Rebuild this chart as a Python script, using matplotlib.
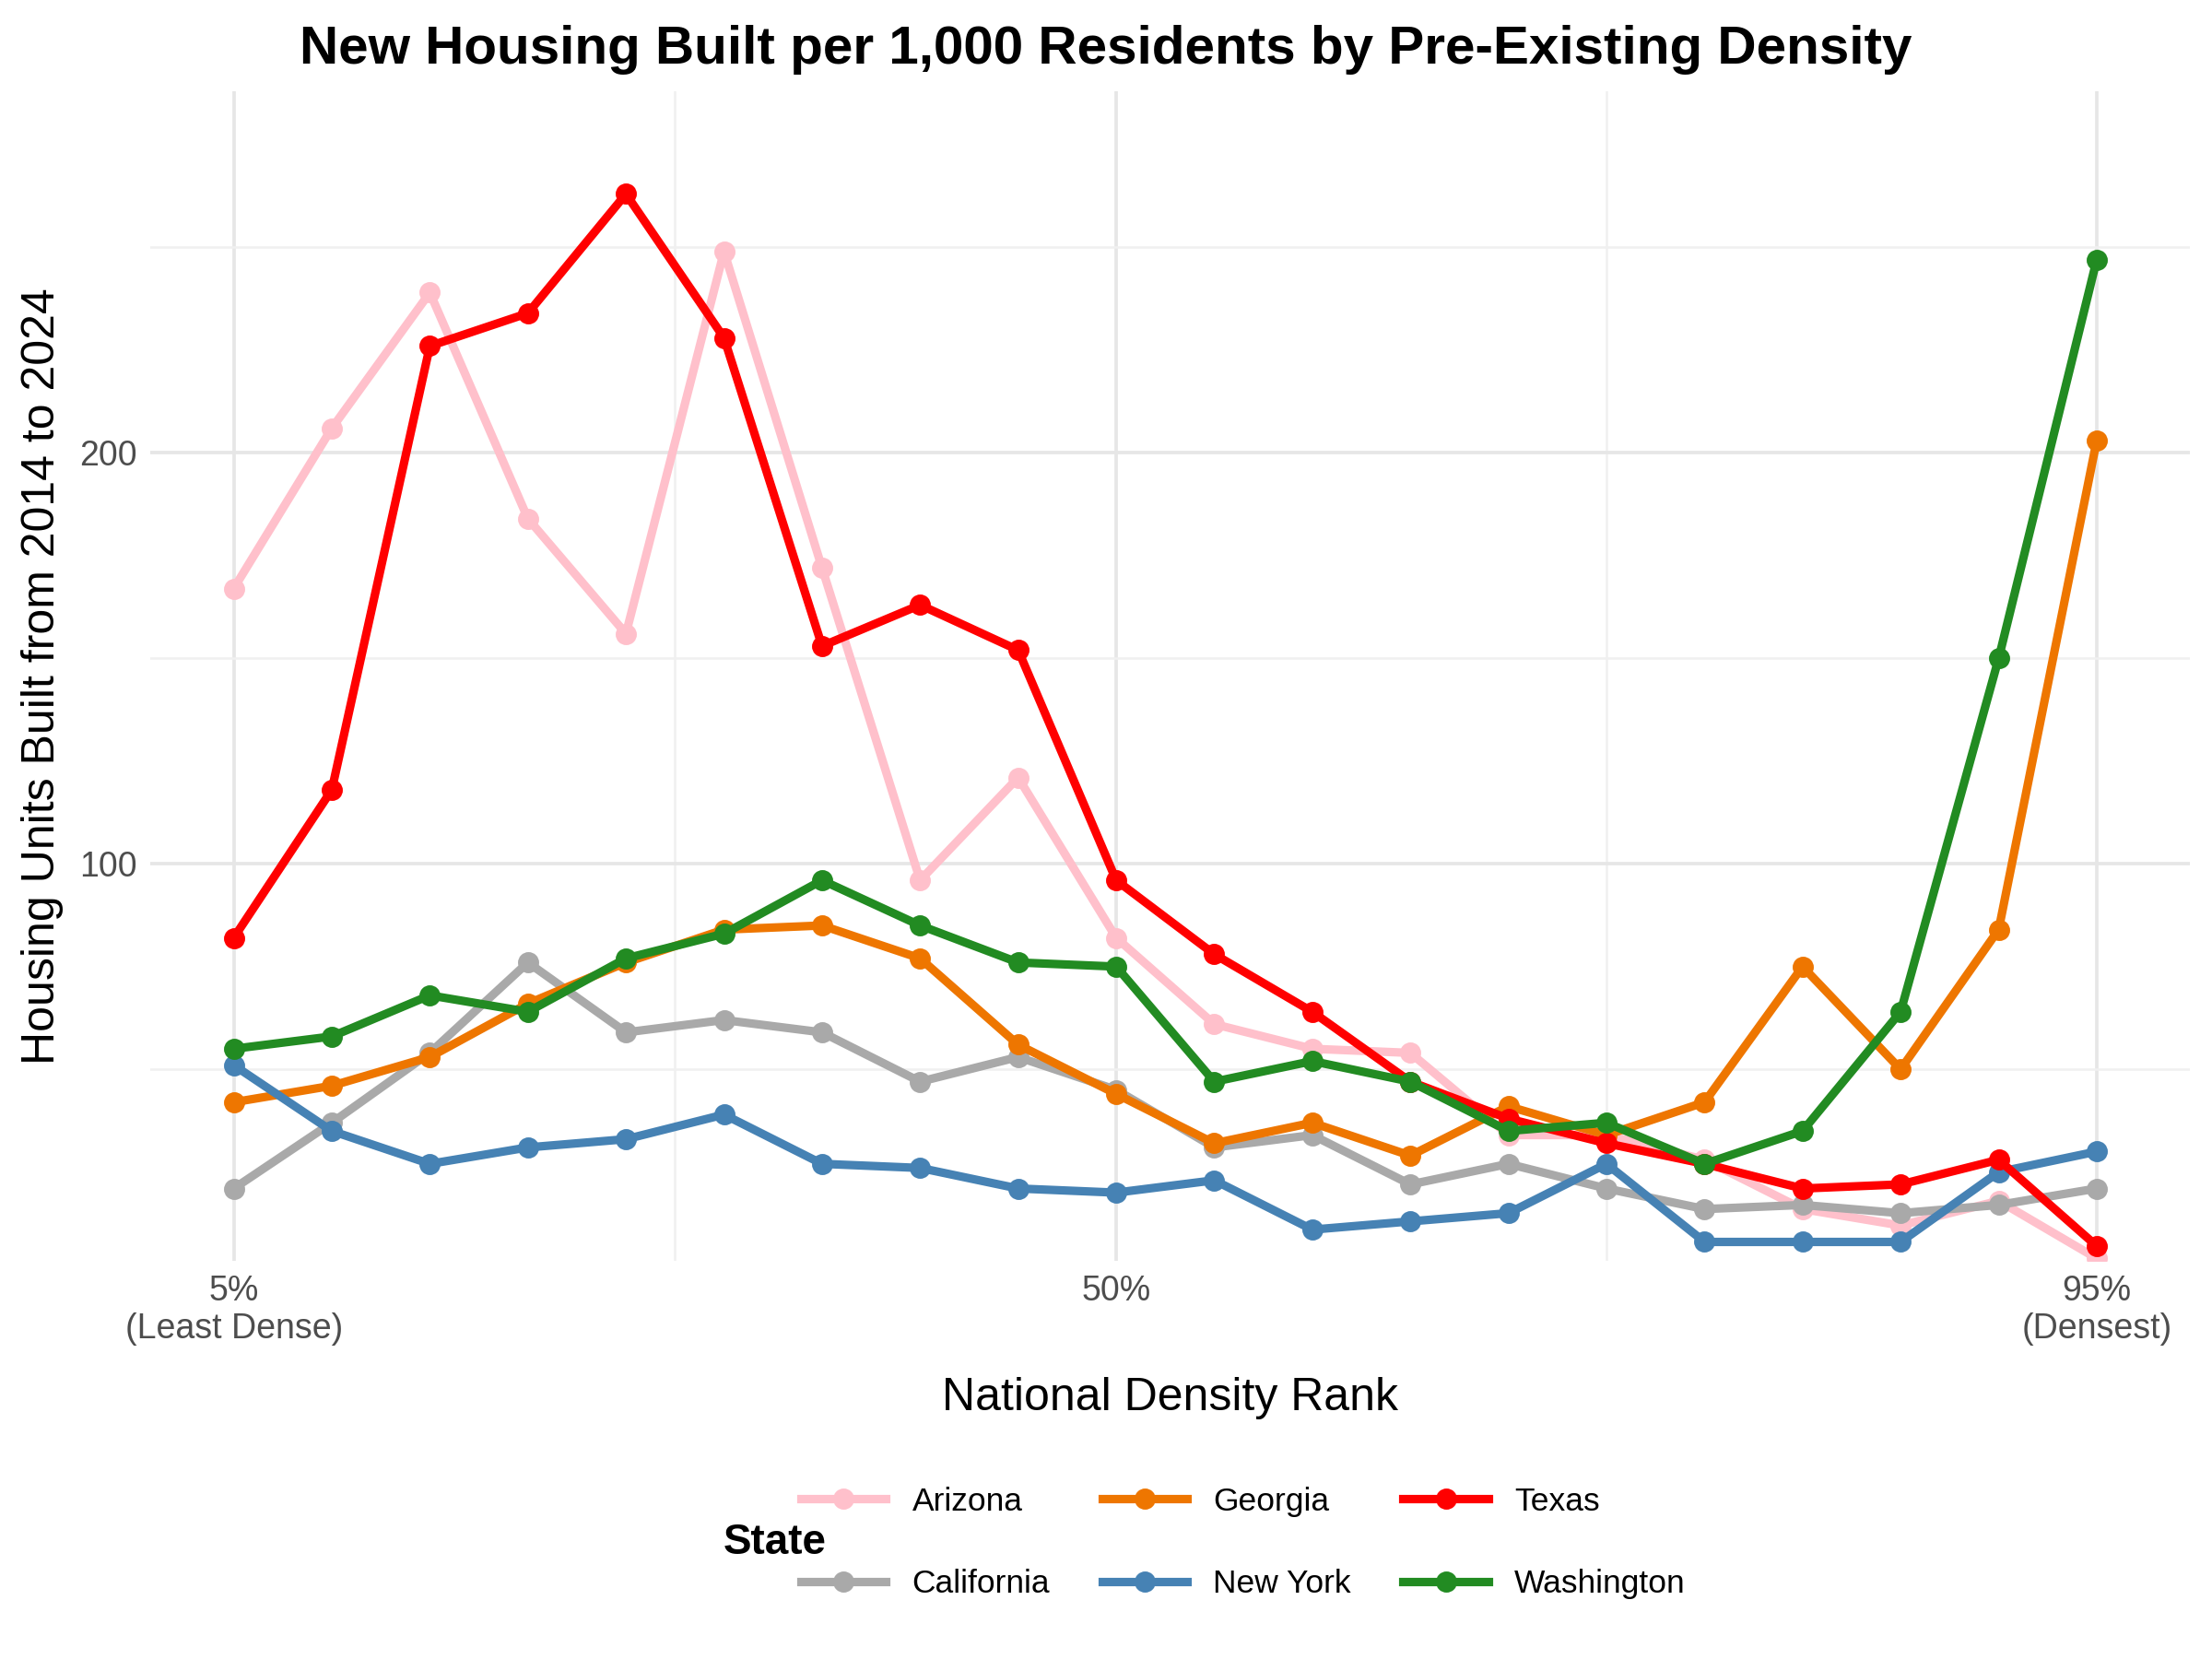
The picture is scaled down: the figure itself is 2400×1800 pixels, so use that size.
import matplotlib.pyplot as plt
import numpy as np

x = list(range(1, 21))
states = ["Arizona", "California", "Georgia", "New York", "Texas", "Washington"]
colors = {"Arizona": "#FFC0CB", "California": "#A9A9A9", "Georgia": "#EE7600",
          "New York": "#4682B4", "Texas": "#FF0000", "Washington": "#228B22"}
arizona = [167, 206, 239, 184, 156, 249, 172, 96, 121, 82, 61, 55, 54, 34, 34, 28, 16, 12, 18, 4]
california = [21, 37, 54, 76, 59, 62, 59, 47, 53, 45, 31, 34, 22, 27, 21, 16, 17, 15, 17, 21]
georgia = [42, 46, 53, 66, 76, 84, 85, 77, 56, 44, 32, 37, 29, 41, 34, 42, 75, 50, 84, 203]
new_york = [51, 35, 27, 31, 33, 39, 27, 26, 21, 20, 23, 11, 13, 15, 27, 8, 8, 8, 25, 30]
texas = [82, 118, 226, 234, 263, 228, 153, 163, 152, 96, 78, 64, 47, 38, 32, 27, 21, 22, 28, 7]
washington = [55, 58, 68, 64, 77, 83, 96, 85, 76, 75, 47, 52, 47, 35, 37, 27, 35, 64, 150, 247]
data = {"Arizona": arizona, "California": california, "Georgia": georgia,
        "New York": new_york, "Texas": texas, "Washington": washington}
xticks = [1, 10, 20]
xticklabels = ["5%\n(Least Dense)", "50%", "95%\n(Densest)"]

plt.rcParams['font.family'] = ['Liberation Sans', 'DejaVu Sans']
fig = plt.figure(figsize=(8, 6), dpi=300)
ax = fig.add_axes([0.068, 0.24, 0.922, 0.705])
handles = {}
for s in states:
    h, = ax.plot(x, data[s], color=colors[s], lw=2.2, marker='o', ms=4.5, label=s)
    handles[s] = h
ax.set_xlim(0.15, 20.95)
ax.set_ylim(3.4, 288)
ax.set_yticks([100, 200])
ax.set_yticks([50, 150, 250], minor=True)
ax.set_xticks(xticks)
ax.set_xticklabels(xticklabels, fontsize=9, color='#4d4d4d')
ax.set_xticks([5.5, 15], minor=True)
ax.tick_params(axis='y', labelsize=9, labelcolor='#4d4d4d')
ax.tick_params(which='both', length=0)
ax.grid(which='major', color='#e6e6e6', lw=0.9)
ax.grid(which='minor', color='#f0f0f0', lw=0.6)
for sp in ax.spines.values():
    sp.set_visible(False)
ax.set_xlabel("National Density Rank", fontsize=12, labelpad=8)
ax.set_ylabel("Housing Units Built from 2014 to 2024", fontsize=12)
fig.suptitle("New Housing Built per 1,000 Residents by Pre-Existing Density",
             fontsize=14, fontweight='bold', y=0.985)
order = ["Arizona", "California", "Georgia", "New York", "Texas", "Washington"]
leg = fig.legend([handles[s] for s in order], order, ncol=3, loc='center',
                 bbox_to_anchor=(0.562, 0.07), frameon=False, fontsize=8.5,
                 handlelength=2.6, columnspacing=1.6, labelspacing=1.6)
fig.text(0.327, 0.07, "State", fontsize=11, fontweight='bold', va='center')
fig.savefig("out.png", dpi=300, facecolor='white')
